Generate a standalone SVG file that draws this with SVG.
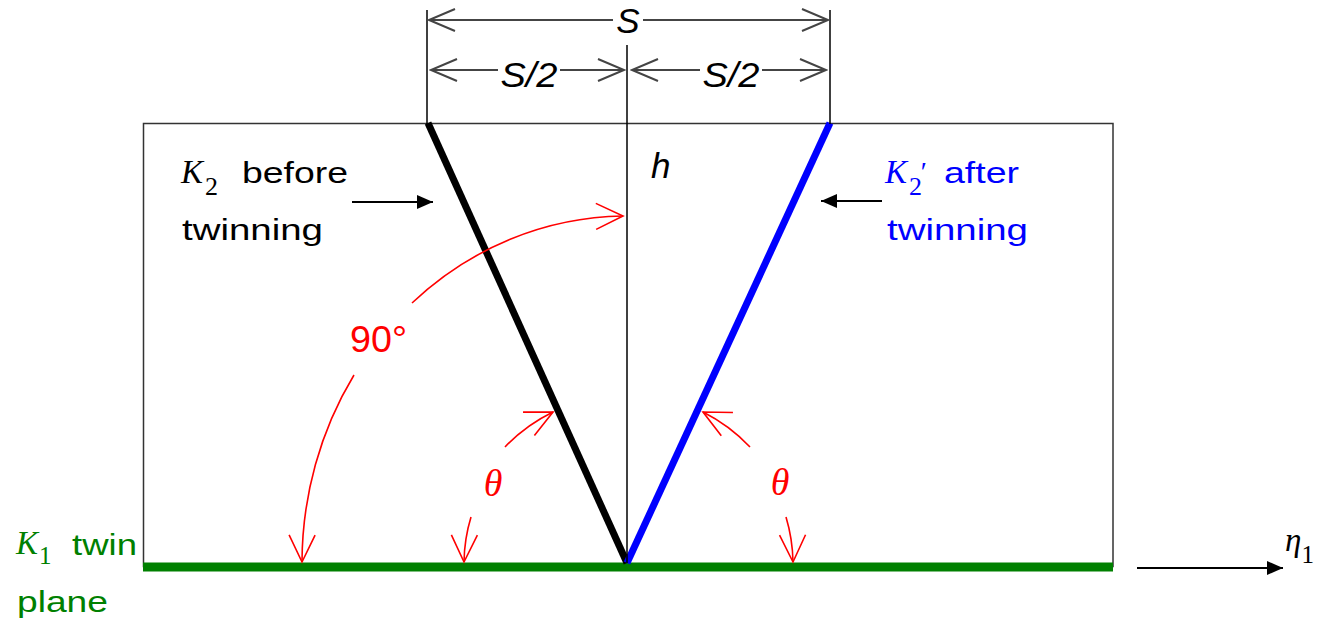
<svg xmlns="http://www.w3.org/2000/svg" width="1324" height="623" viewBox="0 0 1324 623">
<style>
.sans{font-family:"Liberation Sans",Arial,sans-serif}
.serif{font-family:"Liberation Serif","Times New Roman",serif;font-style:italic}
.up{font-style:normal}
.dim{stroke:#444;stroke-width:2;fill:none}
.ext{stroke:#000;stroke-width:1.5;fill:none}
.red{stroke:#ff0000;stroke-width:1.6;fill:none}
.blk{stroke:#000;stroke-width:2;fill:none}
</style>
<defs>
<marker id="chev" viewBox="-30 -14 32 28" refX="0" refY="0" markerWidth="32" markerHeight="28" markerUnits="userSpaceOnUse" orient="auto"><path d="M-26,-11 L0,0 L-26,11" fill="none" stroke="#444" stroke-width="2"/></marker>
<marker id="redchev" viewBox="-32 -16 34 32" refX="0" refY="0" markerWidth="34" markerHeight="32" markerUnits="userSpaceOnUse" orient="auto"><path d="M-27,-13 L0,0 L-27,13" fill="none" stroke="#ff0000" stroke-width="1.6"/></marker>
<marker id="solid" viewBox="-18 -9 20 18" refX="0" refY="0" markerWidth="20" markerHeight="18" markerUnits="userSpaceOnUse" orient="auto"><path d="M-16,-7 L0,0 L-16,7 Z" fill="#000"/></marker>
</defs>
<rect width="1324" height="623" fill="#fff"/>

<g id="box">
<rect x="143.5" y="123.5" width="969.5" height="443" fill="none" stroke="#333" stroke-width="1.5"/>
</g>

<g id="twin-plane-line">
<line x1="143" y1="567" x2="1113" y2="567" stroke="#008000" stroke-width="9"/>
</g>

<g id="k2-line">
<line x1="428" y1="123" x2="627" y2="563" stroke="#000" stroke-width="7"/>
</g>
<g id="k2prime-line">
<line x1="830" y1="123" x2="627" y2="563" stroke="#0000ff" stroke-width="7"/>
</g>

<g id="connectors">
<line class="ext" x1="427" y1="10" x2="427" y2="124"/>
<line class="ext" x1="830" y1="10" x2="830" y2="124"/>
<line class="ext" x1="627" y1="45" x2="627" y2="563"/>
<path class="dim" d="M613,20 L429,20" marker-end="url(#chev)"/>
<path class="dim" d="M643,20 L828,20" marker-end="url(#chev)"/>
<path class="dim" d="M498,70 L431,70" marker-end="url(#chev)"/>
<path class="dim" d="M560,70 L624,70" marker-end="url(#chev)"/>
<path class="dim" d="M700,70 L632,70" marker-end="url(#chev)"/>
<path class="dim" d="M762,70 L826,70" marker-end="url(#chev)"/>
<path class="blk" d="M352,202 L433,202" marker-end="url(#solid)"/>
<path class="blk" d="M882,201 L821,201" marker-end="url(#solid)"/>
<path class="blk" d="M1137,568 L1283,568" marker-end="url(#solid)"/>
<path class="red" d="M354,375 A325 347 0 0 0 302,562" marker-end="url(#redchev)"/>
<path class="red" d="M412,303 A325 347 0 0 1 623,216" marker-end="url(#redchev)"/>
<path class="red" d="M505,447 A168 168 0 0 1 553,412" marker-end="url(#redchev)"/>
<path class="red" d="M471,517 A163 163 0 0 0 464,562" marker-end="url(#redchev)"/>
<path class="red" d="M750,447 A169 169 0 0 0 703,412" marker-end="url(#redchev)"/>
<path class="red" d="M786,517 A166 166 0 0 1 793,562" marker-end="url(#redchev)"/>
</g>

<g id="label-s">
<text class="sans" x="628" y="33" font-size="35" font-style="italic" text-anchor="middle" fill="#000">S</text>
</g>
<g id="label-s2-left">
<text class="sans" x="529" y="87" font-size="35" font-style="italic" text-anchor="middle" textLength="57" lengthAdjust="spacingAndGlyphs" fill="#000">S/2</text>
</g>
<g id="label-s2-right">
<text class="sans" x="731" y="87" font-size="35" font-style="italic" text-anchor="middle" textLength="57" lengthAdjust="spacingAndGlyphs" fill="#000">S/2</text>
</g>
<g id="label-h">
<text class="sans" x="651" y="178" font-size="35" font-style="italic" fill="#000">h</text>
</g>
<g id="label-k2">
<text class="serif" x="181" y="183" font-size="33" fill="#000">K<tspan class="up" dx="2" dy="12" font-size="26">2</tspan></text>
<text class="sans" x="242" y="183" font-size="29" textLength="106" lengthAdjust="spacingAndGlyphs" fill="#000">before</text>
<text class="sans" x="182" y="240" font-size="29" textLength="141" lengthAdjust="spacingAndGlyphs" fill="#000">twinning</text>
</g>
<g id="label-k2prime">
<text class="serif" x="885" y="183" font-size="33" fill="#0000ff">K<tspan class="up" dx="2" dy="12" font-size="26">2</tspan><tspan dx="-3" dy="-14" font-size="28">′</tspan></text>
<text class="sans" x="944" y="183" font-size="29" textLength="75" lengthAdjust="spacingAndGlyphs" fill="#0000ff">after</text>
<text class="sans" x="887" y="240" font-size="29" textLength="141" lengthAdjust="spacingAndGlyphs" fill="#0000ff">twinning</text>
</g>
<g id="label-k1">
<text class="serif" x="16" y="554" font-size="33" fill="#008000">K<tspan class="up" dx="1" dy="10" font-size="25">1</tspan></text>
<text class="sans" x="72" y="555" font-size="29" textLength="65" lengthAdjust="spacingAndGlyphs" fill="#008000">twin</text>
<text class="sans" x="17" y="612" font-size="29" textLength="91" lengthAdjust="spacingAndGlyphs" fill="#008000">plane</text>
</g>
<g id="label-eta">
<text class="serif" x="1285" y="551" font-size="33" fill="#000">η<tspan class="up" dy="12" font-size="25">1</tspan></text>
</g>
<g id="label-90">
<text class="sans" x="350" y="352" font-size="36" textLength="57" lengthAdjust="spacingAndGlyphs" fill="#ff0000">90°</text>
</g>
<g id="label-theta-left">
<text class="serif" x="493" y="496" font-size="38" text-anchor="middle" fill="#ff0000">θ</text>
</g>
<g id="label-theta-right">
<text class="serif" x="780" y="495" font-size="38" text-anchor="middle" fill="#ff0000">θ</text>
</g>
</svg>
